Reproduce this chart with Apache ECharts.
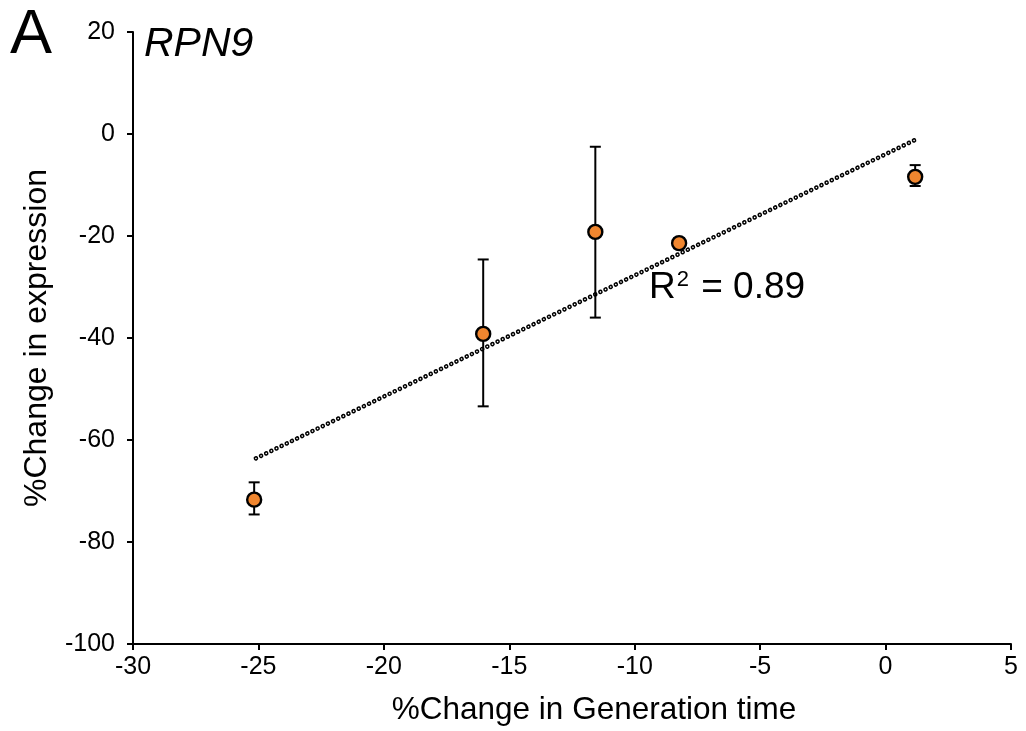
<!DOCTYPE html>
<html>
<head>
<meta charset="utf-8">
<script src="https://cdn.jsdelivr.net/npm/echarts@6/dist/echarts.min.js"></script>
<style>html,body{margin:0;padding:0;background:#fff}#c{width:1026px;height:731px}</style>
</head>
<body>
<div id="c"></div>
<script>
// Data
const genTime = [-25.17, -16.04, -11.57, -8.23, 1.18];      // %Change in Generation time
const expression = [-71.7, -39.2, -19.2, -21.4, -8.4];       // %Change in expression
const errLow = [-74.6, -53.4, -36.0, -22.4, -10.2];
const errHigh = [-68.3, -24.6, -2.5, -20.4, -6.1];
const trendX = [-25.1, 1.16];
const trendY = [-63.6, -1.2];
const xTicks = [-30, -25, -20, -15, -10, -5, 0, 5];
const yTicks = [-100, -80, -60, -40, -20, 0, 20];

const FONT = 'Liberation Sans';
const chart = echarts.init(document.getElementById('c'));

const pts = genTime.map((x, i) => [x, expression[i]]);
const errs = genTime.map((x, i) => [x, errLow[i], errHigh[i]]);
const trend = trendX.map((x, i) => [x, trendY[i]]);

chart.setOption({
  animation: false,
  backgroundColor: '#fff',
  grid: { left: 133, right: 15, top: 32, bottom: 84 },
  xAxis: {
    type: 'value', min: xTicks[0], max: xTicks[xTicks.length - 1], interval: 5,
    name: '%Change in Generation time', nameLocation: 'middle', nameGap: 50,
    nameTextStyle: { fontFamily: FONT, fontSize: 31.5, color: '#000', padding: [0, 0, 0, 44] },
    axisLine: { onZero: false, lineStyle: { color: '#000', width: 2 } },
    axisTick: { show: true, inside: false, length: 6, lineStyle: { color: '#000', width: 2 } },
    axisLabel: { fontFamily: FONT, fontSize: 25, color: '#000', margin: 11 },
    splitLine: { show: false }
  },
  yAxis: {
    type: 'value', min: yTicks[0], max: yTicks[yTicks.length - 1], interval: 20,
    name: '%Change in expression', nameLocation: 'middle', nameGap: 80, nameRotate: 90,
    nameTextStyle: { fontFamily: FONT, fontSize: 32, color: '#000' },
    axisLine: { show: true, onZero: false, lineStyle: { color: '#000', width: 2 } },
    axisTick: { show: true, inside: false, length: 6, lineStyle: { color: '#000', width: 2 } },
    axisLabel: { fontFamily: FONT, fontSize: 25, color: '#000', margin: 18 },
    splitLine: { show: false }
  },
  graphic: [
    { type: 'text', left: 10, top: 4, style: { text: 'A', font: '63px "Liberation Sans"', fill: '#000' } },
    { type: 'text', left: 144, top: 24, style: { text: 'RPN9', font: 'italic 41px "Liberation Sans"', fill: '#000' } },
    { type: 'text', left: 649, top: 269, style: {
        text: '{a|R}{s|2}{a| = 0.89}',
        rich: {
          a: { font: '37px "Liberation Sans"', fill: '#000', verticalAlign: 'bottom' },
          s: { font: '22px "Liberation Sans"', fill: '#000', verticalAlign: 'top', padding: [0, 2, 14, 1] }
        } } }
  ],
  series: [
    {
      type: 'line', data: trend, symbol: 'none', silent: true, z: 2,
      lineStyle: { color: '#000', width: 4.6, type: [0.01, 5.7], cap: 'round' }
    },
    {
      type: 'line', data: trend, symbol: 'none', silent: true, z: 3,
      lineStyle: { color: '#fff', width: 1.6, type: [0.01, 5.7], cap: 'round' }
    },
    {
      type: 'custom', data: errs, z: 4,
      renderItem: function (params, api) {
        const x = api.value(0);
        const lo = api.coord([x, api.value(1)]);
        const hi = api.coord([x, api.value(2)]);
        const hw = 5.5;
        const st = { stroke: '#000', lineWidth: 2 };
        return {
          type: 'group',
          children: [
            { type: 'line', shape: { x1: lo[0], y1: lo[1], x2: hi[0], y2: hi[1] }, style: st },
            { type: 'line', shape: { x1: lo[0] - hw, y1: lo[1], x2: lo[0] + hw, y2: lo[1] }, style: st },
            { type: 'line', shape: { x1: hi[0] - hw, y1: hi[1], x2: hi[0] + hw, y2: hi[1] }, style: st }
          ]
        };
      }
    },
    {
      type: 'scatter', data: pts, symbol: 'circle', symbolSize: 14, z: 5,
      itemStyle: { color: '#F0862F', borderColor: '#000', borderWidth: 2.4, opacity: 1 }
    }
  ]
});
</script>
</body>
</html>
